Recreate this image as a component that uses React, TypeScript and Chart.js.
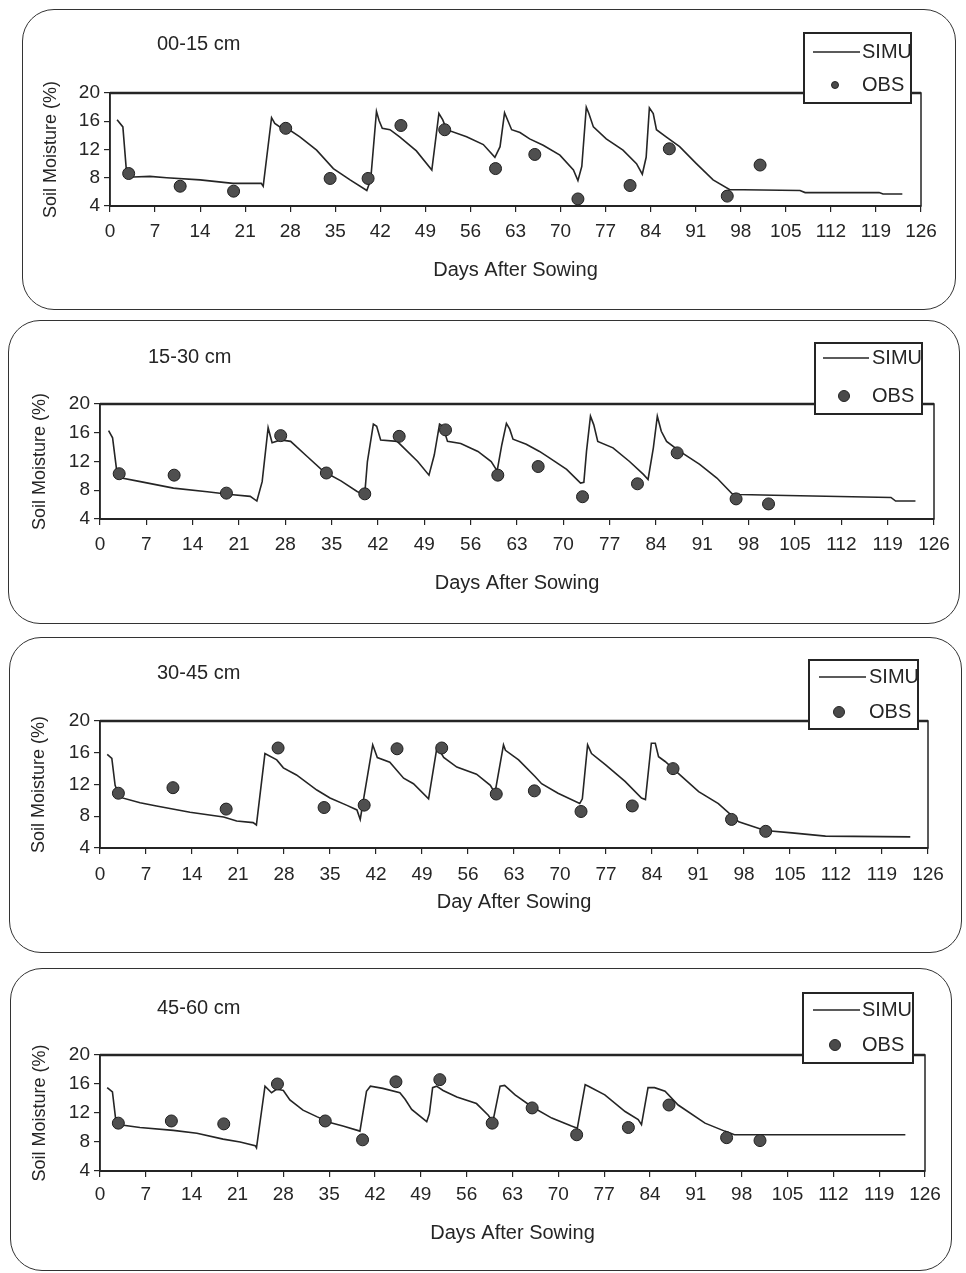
import React, { useEffect, useRef } from "react";
import { Chart, registerables } from "chart.js";

Chart.register(...registerables);

const FONT = '"Liberation Sans", Arial, sans-serif';

// ---------- tick labels ----------
const X_TICKS = [0, 7, 14, 21, 28, 35, 42, 49, 56, 63, 70, 77, 84, 91, 98, 105, 112, 119, 126];
const Y_TICKS = [4, 8, 12, 16, 20];

// ---------- 00-15 cm ----------
const SIMU_00_15_DAY = [1.1, 2.0, 2.6, 3.6, 6.2, 8.8, 14.0, 19.1, 23.5, 23.8, 25.1, 25.6, 26.4, 27.5, 29.5, 32.1, 34.7, 37.3, 39.9, 40.5, 41.4, 41.8, 42.3, 43.5, 45.0, 47.6, 50.0, 51.1, 51.7, 52.3, 55.4, 58.0, 59.8, 60.6, 61.3, 62.4, 63.7, 65.2, 67.3, 69.9, 72.0, 72.7, 73.3, 74.0, 74.4, 75.1, 77.1, 79.7, 81.8, 82.7, 83.3, 83.8, 84.4, 84.9, 86.4, 88.5, 91.1, 93.7, 96.3, 98.4, 107.2, 108.0, 119.5, 120.1, 123.1];
const SIMU_00_15_VAL = [16.2, 15.2, 8.4, 8.1, 8.2, 8.0, 7.7, 7.2, 7.2, 6.8, 16.5, 15.7, 15.2, 15.0, 13.8, 11.9, 9.3, 7.7, 6.2, 7.7, 17.4, 16.1, 15.0, 14.8, 13.8, 11.8, 9.1, 17.1, 16.2, 14.8, 13.8, 12.7, 10.9, 12.4, 17.2, 14.8, 14.4, 13.5, 12.6, 11.2, 9.1, 7.6, 9.6, 18.0, 17.1, 15.2, 13.5, 11.9, 10.0, 8.5, 10.9, 17.9, 17.1, 14.8, 13.8, 12.4, 10.0, 7.7, 6.3, 6.3, 6.2, 5.9, 5.9, 5.7, 5.7];
const OBS_00_15_DAY = [2.9, 10.9, 19.2, 27.3, 34.2, 40.1, 45.2, 52.0, 59.9, 66.0, 72.7, 80.8, 86.9, 95.9, 101.0];
const OBS_00_15_VAL = [8.6, 6.8, 6.1, 15.0, 7.9, 7.9, 15.4, 14.8, 9.3, 11.3, 5.0, 6.9, 12.1, 5.4, 9.8];

// ---------- 15-30 cm ----------
const SIMU_15_30_DAY = [1.3, 1.9, 2.5, 3.3, 6.1, 11.1, 16.2, 19.7, 22.7, 23.7, 24.5, 25.4, 26.0, 27.3, 28.8, 31.3, 33.8, 36.4, 38.9, 40.0, 40.4, 41.3, 41.8, 42.4, 44.9, 45.9, 48.0, 49.7, 50.5, 51.3, 51.8, 52.5, 54.5, 57.1, 59.1, 60.0, 60.7, 61.4, 61.9, 62.4, 64.4, 66.4, 67.9, 70.5, 72.6, 73.1, 73.5, 74.1, 74.6, 75.2, 77.5, 80.0, 82.1, 82.8, 83.6, 84.2, 84.8, 85.6, 87.6, 90.6, 93.2, 95.5, 96.7, 101.8, 119.5, 120.2, 123.2];
const SIMU_15_30_VAL = [16.3, 15.3, 10.9, 9.7, 9.2, 8.3, 7.8, 7.4, 7.15, 6.5, 9.2, 16.7, 14.6, 15.0, 14.8, 12.7, 10.6, 9.3, 7.8, 7.5, 12.0, 17.2, 16.9, 15.0, 14.8, 13.9, 12.0, 10.1, 12.9, 17.2, 16.9, 14.8, 14.5, 13.4, 12.0, 10.7, 14.3, 17.3, 16.5, 15.1, 14.4, 13.4, 12.5, 10.9, 9.0, 9.1, 13.4, 18.3, 17.1, 14.8, 13.9, 12.0, 10.2, 9.5, 13.9, 18.3, 16.2, 14.8, 13.4, 11.6, 9.7, 7.5, 7.4, 7.3, 7.0, 6.5, 6.5];
const OBS_15_30_DAY = [2.9, 11.2, 19.1, 27.3, 34.2, 40.0, 45.2, 52.2, 60.1, 66.2, 72.9, 81.2, 87.2, 96.1, 101.0];
const OBS_15_30_VAL = [10.3, 10.1, 7.6, 15.6, 10.4, 7.5, 15.5, 16.4, 10.1, 11.3, 7.1, 8.9, 13.2, 6.8, 6.1];

// ---------- 30-45 cm ----------
const SIMU_30_45_DAY = [1.1, 1.8, 2.3, 3.0, 6.1, 8.6, 13.7, 18.8, 20.8, 23.3, 23.8, 25.1, 26.9, 27.9, 29.9, 33.0, 35.0, 37.5, 39.1, 39.6, 40.2, 41.5, 42.2, 44.1, 46.2, 47.7, 50.0, 51.3, 52.3, 54.3, 57.3, 59.4, 60.1, 61.4, 61.7, 63.7, 66.2, 67.2, 69.7, 73.0, 73.4, 74.2, 74.8, 76.9, 79.9, 82.4, 83.0, 83.9, 84.5, 85.0, 86.0, 88.0, 91.1, 94.1, 97.2, 101.2, 105.3, 110.4, 123.3];
const SIMU_30_45_VAL = [15.8, 15.3, 11.9, 10.4, 9.7, 9.3, 8.5, 7.9, 7.4, 7.2, 6.9, 15.9, 15.1, 14.1, 13.2, 11.3, 10.3, 9.4, 8.8, 7.6, 10.6, 17.0, 15.4, 14.8, 12.8, 12.1, 10.2, 16.8, 15.4, 14.2, 13.3, 11.9, 10.9, 17.0, 16.3, 15.1, 13.0, 12.1, 10.9, 9.6, 10.2, 17.0, 15.9, 14.5, 12.4, 10.3, 10.1, 17.2, 17.2, 15.5, 14.9, 13.4, 11.1, 9.6, 7.3, 6.2, 5.9, 5.5, 5.4];
const OBS_30_45_DAY = [2.8, 11.1, 19.2, 27.1, 34.1, 40.2, 45.2, 52.0, 60.3, 66.1, 73.2, 81.0, 87.2, 96.1, 101.3];
const OBS_30_45_VAL = [10.9, 11.6, 8.9, 16.6, 9.1, 9.4, 16.5, 16.6, 10.8, 11.2, 8.6, 9.3, 14.0, 7.6, 6.1];

// ---------- 45-60 cm ----------
const SIMU_45_60_DAY = [1.1, 1.9, 2.4, 3.6, 6.1, 11.2, 14.8, 18.8, 21.4, 23.7, 23.9, 25.2, 26.2, 27.0, 28.0, 29.0, 31.0, 33.1, 35.1, 37.1, 39.7, 40.7, 41.3, 43.2, 45.8, 46.6, 47.6, 49.9, 50.3, 50.8, 51.4, 52.4, 54.5, 57.5, 59.3, 60.0, 61.1, 61.8, 63.4, 65.9, 69.0, 72.0, 72.9, 74.1, 74.6, 77.1, 80.2, 82.2, 82.7, 83.7, 84.7, 86.3, 88.3, 92.4, 95.4, 96.9, 123.0];
const SIMU_45_60_VAL = [15.5, 14.9, 11.1, 10.3, 10.0, 9.6, 9.2, 8.4, 8.0, 7.5, 7.2, 15.7, 14.8, 15.3, 15.1, 13.8, 12.4, 11.5, 10.7, 10.2, 9.5, 15.0, 15.7, 15.4, 14.8, 13.9, 12.5, 10.8, 11.9, 15.5, 15.7, 15.1, 14.2, 13.3, 11.7, 10.8, 15.7, 15.8, 14.5, 12.9, 11.3, 10.2, 9.9, 15.9, 15.7, 14.5, 12.2, 11.1, 10.4, 15.5, 15.5, 15.0, 13.1, 10.6, 9.5, 9.0, 9.0];
const OBS_45_60_DAY = [2.8, 10.9, 18.9, 27.1, 34.4, 40.1, 45.2, 51.9, 59.9, 66.0, 72.8, 80.7, 86.9, 95.7, 100.8];
const OBS_45_60_VAL = [10.6, 10.9, 10.5, 16.0, 10.9, 8.3, 16.3, 16.6, 10.6, 12.7, 9.0, 10.0, 13.1, 8.6, 8.2];

const pts = (xs: number[], ys: number[]) => xs.map((x, i) => ({ x, y: ys[i] }));

type PanelCfg = {
  label: string;
  xTitle: string;
  simuX: number[];
  simuY: number[];
  obsX: number[];
  obsY: number[];
  top: number;
  height: number;
  padT: number;
  padR: number;
  padL: number;
  padB: number;
  yW: number;
  xH: number;
  tickPad: number;
  labelX: number;
  labelY: number;
  box: { l: number; t: number; w: number; h: number };
  legend: { x: number; y: number; w: number; h: number; lineX1: number; lineX2: number; lineY: number; textX: number; dotX: number; dotY: number; dotR: number };
};

const PANELS: PanelCfg[] = [
  {
    label: "00-15 cm", xTitle: "Days After Sowing",
    simuX: SIMU_00_15_DAY, simuY: SIMU_00_15_VAL, obsX: OBS_00_15_DAY, obsY: OBS_00_15_VAL,
    top: 9, height: 302, padT: 84, padR: 45, padL: 40, padB: 29, yW: 70, xH: 76, tickPad: 8,
    labelX: 157, labelY: 35,
    box: { l: 22, t: 9, w: 934, h: 301 },
    legend: { x: 804, y: 24, w: 107, h: 70, lineX1: 813, lineX2: 860, lineY: 43, textX: 862, dotX: 835, dotY: 76, dotR: 3.5 },
  },
  {
    label: "15-30 cm", xTitle: "Days After Sowing",
    simuX: SIMU_15_30_DAY, simuY: SIMU_15_30_VAL, obsX: OBS_15_30_DAY, obsY: OBS_15_30_VAL,
    top: 320, height: 305, padT: 84, padR: 32, padL: 29, padB: 30, yW: 71, xH: 76, tickPad: 8,
    labelX: 148, labelY: 37,
    box: { l: 8, t: 320, w: 952, h: 304 },
    legend: { x: 815, y: 23, w: 107, h: 71, lineX1: 823, lineX2: 869, lineY: 38, textX: 872, dotX: 844, dotY: 76, dotR: 5.5 },
  },
  {
    label: "30-45 cm", xTitle: "Day After Sowing",
    simuX: SIMU_30_45_DAY, simuY: SIMU_30_45_VAL, obsX: OBS_30_45_DAY, obsY: OBS_30_45_VAL,
    top: 636, height: 318, padT: 85, padR: 38, padL: 28, padB: 39.5, yW: 72, xH: 66.5, tickPad: 9.5,
    labelX: 157, labelY: 37,
    box: { l: 9, t: 637, w: 953, h: 316 },
    legend: { x: 809, y: 24, w: 109, h: 69, lineX1: 819, lineX2: 866, lineY: 41, textX: 869, dotX: 839, dotY: 76, dotR: 5.5 },
  },
  {
    label: "45-60 cm", xTitle: "Days After Sowing",
    simuX: SIMU_45_60_DAY, simuY: SIMU_45_60_VAL, obsX: OBS_45_60_DAY, obsY: OBS_45_60_VAL,
    top: 967, height: 306, padT: 88, padR: 41, padL: 29, padB: 27.5, yW: 71, xH: 74.5, tickPad: 6.5,
    labelX: 157, labelY: 41,
    box: { l: 10, t: 968, w: 942, h: 303 },
    legend: { x: 803, y: 26, w: 110, h: 70, lineX1: 813, lineX2: 860, lineY: 43, textX: 862, dotX: 835, dotY: 78, dotR: 5.5 },
  },
];

const INK = "#252525";

const decorPlugin = {
  id: "decor",
  afterDraw(chart: any, _args: any, opts: any) {
    const { ctx, chartArea: a } = chart;
    ctx.save();
    // plot frame
    ctx.strokeStyle = INK;
    ctx.lineWidth = 1.5;
    ctx.strokeRect(a.left, a.top, a.right - a.left, a.bottom - a.top);
    ctx.lineWidth = 2.5;
    ctx.beginPath();
    ctx.moveTo(a.left, a.top);
    ctx.lineTo(a.right, a.top);
    ctx.stroke();
    // depth label
    ctx.fillStyle = INK;
    ctx.font = `20px ${FONT}`;
    ctx.textAlign = "left";
    ctx.textBaseline = "middle";
    ctx.fillText(opts.label, opts.labelX, opts.labelY);
    // legend
    const L = opts.legend;
    ctx.fillStyle = "#ffffff";
    ctx.fillRect(L.x, L.y, L.w, L.h);
    ctx.strokeStyle = INK;
    ctx.lineWidth = 1.5;
    ctx.beginPath();
    ctx.moveTo(L.lineX1, L.lineY);
    ctx.lineTo(L.lineX2, L.lineY);
    ctx.stroke();
    ctx.fillStyle = INK;
    ctx.font = `20px ${FONT}`;
    ctx.fillText("SIMU", L.textX, L.lineY);
    ctx.fillText("OBS", L.textX, L.dotY);
    ctx.beginPath();
    ctx.arc(L.dotX, L.dotY, L.dotR, 0, Math.PI * 2);
    ctx.fillStyle = "#4a4a4a";
    ctx.fill();
    ctx.lineWidth = 1;
    ctx.strokeStyle = INK;
    ctx.stroke();
    ctx.lineWidth = 2;
    ctx.strokeRect(L.x, L.y, L.w, L.h);
    ctx.restore();
  },
};

function Panel({ cfg }: { cfg: PanelCfg }) {
  const ref = useRef<HTMLCanvasElement | null>(null);
  useEffect(() => {
    if (!ref.current) return;
    const chart = new Chart(ref.current, {
      type: "scatter",
      data: {
        datasets: [
          {
            label: "SIMU",
            data: pts(cfg.simuX, cfg.simuY),
            showLine: true,
            borderColor: INK,
            borderWidth: 1.6,
            pointRadius: 0,
            tension: 0,
            order: 2,
          },
          {
            label: "OBS",
            data: pts(cfg.obsX, cfg.obsY),
            showLine: false,
            pointRadius: 6,
            pointBackgroundColor: "#4f4f4f",
            pointBorderColor: "#1e1e1e",
            pointBorderWidth: 1,
            order: 1,
          },
        ],
      },
      options: {
        responsive: false,
        animation: false,
        devicePixelRatio: 1,
        layout: { padding: { left: cfg.padL, right: cfg.padR, top: cfg.padT, bottom: cfg.padB } },
        plugins: {
          legend: { display: false },
          tooltip: { enabled: false },
          title: { display: false },
          decor: { label: cfg.label, labelX: cfg.labelX, labelY: cfg.labelY, legend: cfg.legend },
        } as any,
        scales: {
          x: {
            type: "linear",
            min: X_TICKS[0],
            max: X_TICKS[X_TICKS.length - 1],
            afterBuildTicks: (s: any) => {
              s.ticks = X_TICKS.map((v) => ({ value: v }));
            },
            afterFit: (s: any) => {
              s.height = cfg.xH;
            },
            ticks: {
              autoSkip: false,
              maxRotation: 0,
              minRotation: 0,
              padding: cfg.tickPad,
              color: INK,
              font: { family: FONT, size: 19 },
            },
            grid: { drawOnChartArea: false, drawTicks: true, tickLength: 6, color: INK, lineWidth: 1.2 },
            border: { display: true, color: INK, width: 2 },
            title: { display: true, text: cfg.xTitle, color: INK, padding: 0, font: { family: FONT, size: 20 } },
          },
          y: {
            type: "linear",
            min: Y_TICKS[0],
            max: Y_TICKS[Y_TICKS.length - 1],
            afterBuildTicks: (s: any) => {
              s.ticks = Y_TICKS.map((v) => ({ value: v }));
            },
            afterFit: (s: any) => {
              s.width = cfg.yW;
            },
            ticks: { padding: 4, color: INK, font: { family: FONT, size: 19 } },
            grid: { drawOnChartArea: false, drawTicks: true, tickLength: 6, color: INK, lineWidth: 1.2 },
            border: { display: true, color: INK, width: 1.5 },
            title: { display: true, text: "Soil Moisture (%)", color: INK, padding: 0, font: { family: FONT, size: 18 } },
          },
        },
      },
      plugins: [decorPlugin],
    } as any);
    return () => chart.destroy();
  }, [cfg]);
  return (
    <canvas
      ref={ref}
      width={966}
      height={cfg.height}
      style={{ position: "absolute", left: 0, top: cfg.top, width: 966, height: cfg.height }}
    />
  );
}

export default function App() {
  return (
    <div style={{ position: "absolute", left: 0, top: 0, width: 966, height: 1273, background: "#ffffff", overflow: "hidden" }}>
      {PANELS.map((p, i) => (
        <div
          key={"b" + i}
          style={{
            position: "absolute",
            left: p.box.l,
            top: p.box.t,
            width: p.box.w,
            height: p.box.h,
            boxSizing: "border-box",
            border: "1.5px solid #333",
            borderRadius: 32,
          }}
        />
      ))}
      {PANELS.map((p, i) => (
        <Panel key={"c" + i} cfg={p} />
      ))}
    </div>
  );
}
